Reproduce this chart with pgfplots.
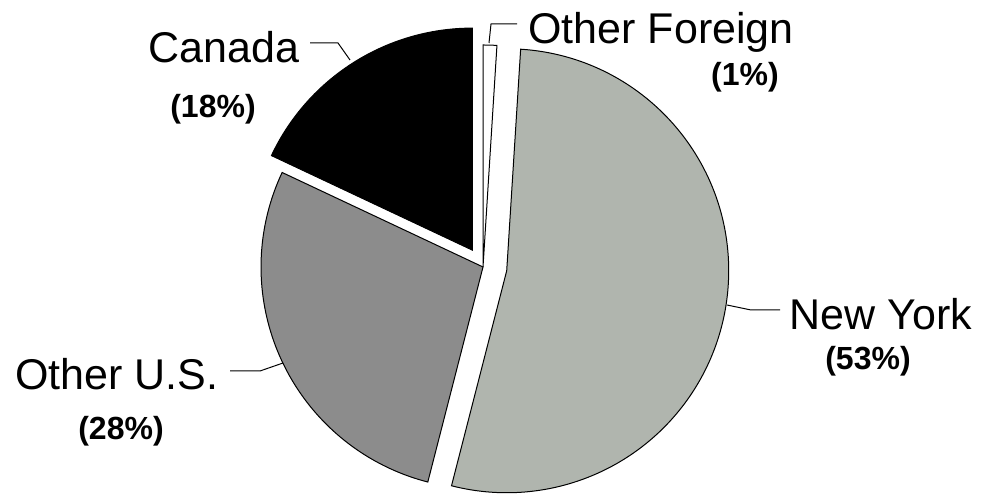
\documentclass[border=0pt]{standalone}
\usepackage{pgfplots}
\pgfplotsset{compat=1.18}
\usepackage{fontspec}
\setmainfont{Liberation Sans}
\definecolor{nyc}{RGB}{176,181,174}
\definecolor{usc}{RGB}{140,140,140}
% slice: #1 cumulative percent before, #2 percent, #3 explode (pt), #4 fill colour
\newcommand\slice[4]{%
  \pgfmathsetmacro\sa{90-3.6*#1}%
  \pgfmathsetmacro\ea{90-3.6*(#1+#2)}%
  \pgfmathsetmacro\ma{(\sa+\ea)/2}%
  \draw[fill=#4, line width=0.5pt, line join=miter]
    ([shift={(\ma:#3)}]axis cs:483,226) -- ++(\sa:111pt)
    arc[start angle=\sa, end angle=\ea, radius=111pt] -- cycle;
}
\begin{document}
\begin{tikzpicture}
\begin{axis}[
  scale only axis, width=494pt, height=246.5pt,
  xmin=0, xmax=988, ymin=0, ymax=493,
  hide axis, clip=false]
\path (axis cs:0,0) rectangle (axis cs:988,493);
\pgfplotsextra{%
  \slice{0}{1}{0pt}{white}%
  \slice{1}{53}{12pt}{nyc}%
  \slice{54}{28}{0pt}{usc}%
  \slice{82}{18}{10pt}{black}%
}
% leader lines
\draw[line width=0.5pt] (axis cs:310,450) -- (axis cs:338,450) -- (axis cs:350,433);
\draw[line width=0.5pt] (axis cs:517,469) -- (axis cs:491,469) -- (axis cs:489,450);
\draw[line width=0.5pt] (axis cs:727,188) -- (axis cs:751,183) -- (axis cs:780,183);
\draw[line width=0.5pt] (axis cs:230,122) -- (axis cs:260,122) -- (axis cs:283,130);
% labels
\node[anchor=base, inner sep=0pt, font=\fontsize{21.5}{24}\selectfont] at (axis cs:224,430) {Canada};
\node[anchor=base, inner sep=0pt, font=\fontsize{16}{18}\selectfont\bfseries] at (axis cs:213,375) {(18\%)};
\node[anchor=base, inner sep=0pt, font=\fontsize{21.5}{24}\selectfont] at (axis cs:661,449) {Other Foreign};
\node[anchor=base, inner sep=0pt, font=\fontsize{16}{18}\selectfont\bfseries] at (axis cs:745,407) {(1\%)};
\node[anchor=base, inner sep=0pt, font=\fontsize{21.5}{24}\selectfont] at (axis cs:881,163) {New York};
\node[anchor=base, inner sep=0pt, font=\fontsize{16}{18}\selectfont\bfseries] at (axis cs:868,123) {(53\%)};
\node[anchor=base, inner sep=0pt, font=\fontsize{21.5}{24}\selectfont] at (axis cs:117,103) {Other U.S.};
\node[anchor=base, inner sep=0pt, font=\fontsize{16}{18}\selectfont\bfseries] at (axis cs:121,53) {(28\%)};
\end{axis}
\end{tikzpicture}
\end{document}
